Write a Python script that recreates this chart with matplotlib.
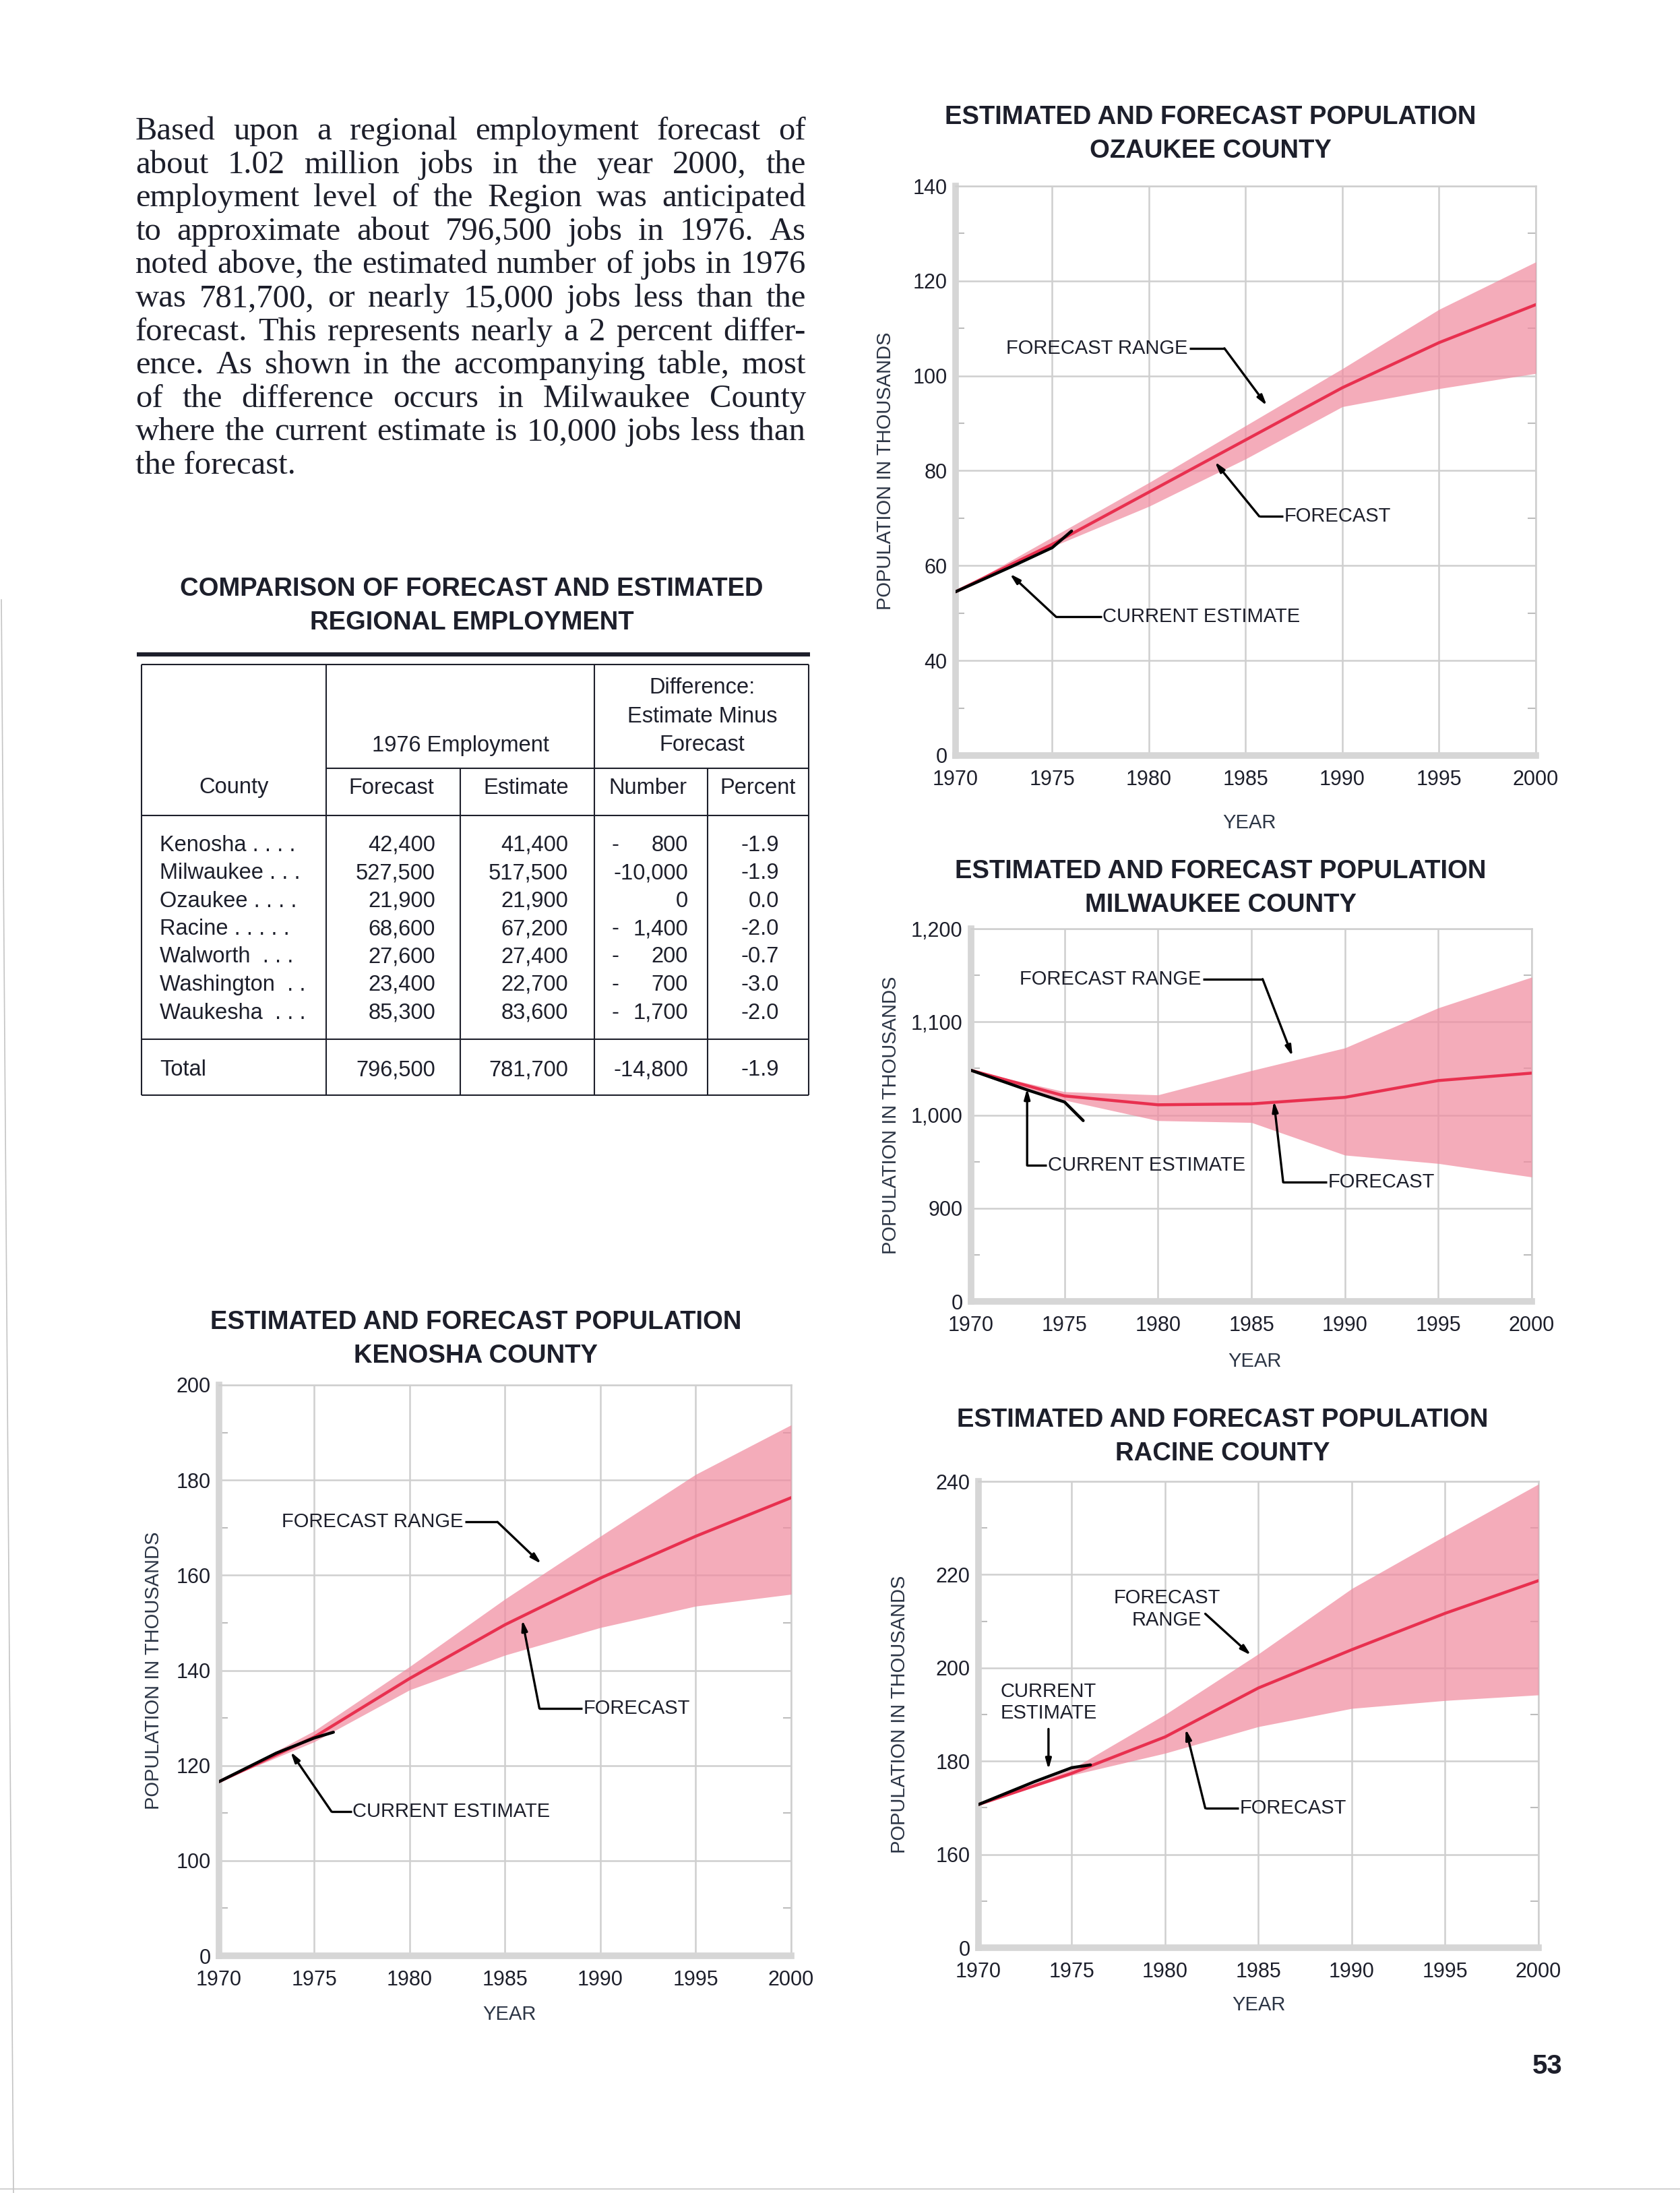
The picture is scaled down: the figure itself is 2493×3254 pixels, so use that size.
"""
page 53: forecast vs estimated employment table and four county population charts
"""

import matplotlib
matplotlib.use('Agg')
import matplotlib.pyplot as plt
from matplotlib.lines import Line2D
import numpy as np

plt.rcParams['font.family'] = ['Liberation Sans', 'DejaVu Sans']

W, H = 2493, 3254
ink = '#1d1f2b'
grid_gray = '#cfcfcf'
spine_gray = '#d6d6d6'
band_pink = '#f08ca0'
line_red = '#e8304f'

# ---------------- data ----------------
para_lines = [
    "Based upon a regional employment forecast of",
    "about 1.02 million jobs in the year 2000, the",
    "employment level of the Region was anticipated",
    "to approximate about 796,500 jobs in 1976. As",
    "noted above, the estimated number of jobs in 1976",
    "was 781,700, or nearly 15,000 jobs less than the",
    "forecast. This represents nearly a 2 percent differ-",
    "ence. As shown in the accompanying table, most",
    "of the difference occurs in Milwaukee County",
    "where the current estimate is 10,000 jobs less than",
    "the forecast.",
]

counties = ["Kenosha . . . .", "Milwaukee . . .", "Ozaukee . . . .", "Racine . . . . .",
            "Walworth  . . .", "Washington  . .", "Waukesha  . . ."]
emp_forecast = [42400, 527500, 21900, 68600, 27600, 23400, 85300]
emp_estimate = [41400, 517500, 21900, 67200, 27400, 22700, 83600]
emp_diff = [-800, -10000, 0, -1400, -200, -700, -1700]
emp_pct = [-1.9, -1.9, 0.0, -2.0, -0.7, -3.0, -2.0]
total_forecast, total_estimate, total_diff, total_pct = 796500, 781700, -14800, -1.9

years = [1970, 1975, 1980, 1985, 1990, 1995, 2000]
est_years = [1970, 1973, 1975, 1976]

ozaukee_fc = [54.5, 64.5, 75.5, 86.5, 97.5, 107.0, 115.0]
ozaukee_hi = [54.5, 66.0, 77.5, 89.5, 101.5, 114.0, 124.0]
ozaukee_lo = [54.5, 64.0, 72.5, 82.5, 93.5, 97.3, 100.5]
ozaukee_est = [54.5, 60.0, 63.8, 67.3]

milwaukee_fc = [1048, 1020.5, 1011, 1012, 1019, 1037, 1045]
milwaukee_hi = [1048, 1025, 1021.6, 1047.7, 1072, 1115, 1148]
milwaukee_lo = [1048, 1016, 994, 992, 957, 948, 933.5]
milwaukee_est = [1048, 1027, 1014, 994]

kenosha_fc = [116.6, 126.0, 138.3, 149.6, 159.4, 168.2, 176.3]
kenosha_hi = [116.6, 127.3, 140.8, 155.0, 168.2, 181.2, 191.6]
kenosha_lo = [116.6, 125.0, 135.9, 143.2, 149.0, 153.5, 156.0]
kenosha_est = [116.6, 122.6, 125.8, 127.0]

racine_fc = [170.7, 177.4, 185.2, 195.7, 203.9, 211.7, 218.7]
racine_hi = [170.7, 178.3, 190.0, 203.0, 217.0, 228.3, 239.4]
racine_lo = [170.7, 177.0, 181.7, 187.4, 191.3, 193.0, 194.2]
racine_est = [170.7, 175.6, 178.6, 179.2]

ozaukee_ticks = [20, 40, 60, 80, 100, 120, 140]
ozaukee_ticklabels = ['0', '40', '60', '80', '100', '120', '140']
milwaukee_ticks = [800, 900, 1000, 1100, 1200]
milwaukee_ticklabels = ['0', '900', '1,000', '1,100', '1,200']
kenosha_ticks = [80, 100, 120, 140, 160, 180, 200]
kenosha_ticklabels = ['0', '100', '120', '140', '160', '180', '200']
racine_ticks = [140, 160, 180, 200, 220, 240]
racine_ticklabels = ['0', '160', '180', '200', '220', '240']
x_ticks = [1970, 1975, 1980, 1985, 1990, 1995, 2000]


def fx(px):
    return px / W


def fy(py):
    return 1 - py / H


fig = plt.figure(figsize=(W / 100, H / 100), dpi=100)
fig.patch.set_facecolor('white')


def hline(x0, x1, y, lw=1.5, color=ink):
    fig.add_artist(Line2D([fx(x0), fx(x1)], [fy(y), fy(y)], color=color, lw=lw,
                          solid_capstyle='butt'))


def vline(x, y0, y1, lw=1.5, color=ink):
    fig.add_artist(Line2D([fx(x), fx(x)], [fy(y0), fy(y1)], color=color, lw=lw,
                          solid_capstyle='butt'))


# ---------------- justified paragraph ----------------
renderer = fig.canvas.get_renderer()
para_left, para_right = 201, 1196
para_kw = dict(family=['Liberation Serif', 'DejaVu Serif'], fontsize=35, color=ink, va='baseline')
for i, line in enumerate(para_lines):
    base = 207 + i * 49.6
    words = line.split()
    if i == len(para_lines) - 1:
        fig.text(fx(para_left), fy(base), line, ha='left', **para_kw)
        continue
    texts = [fig.text(0, fy(base), w, ha='left', **para_kw) for w in words]
    widths = [t.get_window_extent(renderer).width for t in texts]
    gap = (para_right - para_left - sum(widths)) / (len(words) - 1)
    x = para_left
    for t, w in zip(texts, widths):
        t.set_x(fx(x))
        x += w + gap

# ---------------- table ----------------
fig.text(fx(700), fy(874), "COMPARISON OF FORECAST AND ESTIMATED", ha='center', va='center',
         fontsize=27.5, fontweight='bold', color=ink)
fig.text(fx(700), fy(924), "REGIONAL EMPLOYMENT", ha='center', va='center',
         fontsize=27.5, fontweight='bold', color=ink)
hline(203, 1202, 971, lw=4.5)

t_left, t_right, t_top, t_bottom = 210, 1200, 986, 1625
hline(t_left, t_right, t_top)
hline(t_left, t_right, t_bottom)
vline(t_left, t_top, t_bottom)
vline(t_right, t_top, t_bottom)
vline(484, t_top, t_bottom)
vline(882, t_top, t_bottom)
vline(683, 1140, t_bottom)
vline(1050, 1140, t_bottom)
hline(484, t_right, 1140)
hline(t_left, t_right, 1210)
hline(t_left, t_right, 1542)

tkw = dict(fontsize=23.5, color=ink, va='center')
fig.text(fx(683), fy(1106), "1976 Employment", ha='center', **tkw)
for k, s in enumerate(["Difference:", "Estimate Minus", "Forecast"]):
    fig.text(fx(1042), fy(1021 + k * 42), s, ha='center', **tkw)
for s, cx in zip(["County", "Forecast", "Estimate", "Number", "Percent"],
                 [347, 581, 781, 961, 1125]):
    fig.text(fx(cx), fy(1169), s, ha='center', **tkw)

for r, name in enumerate(counties):
    ry = 1254 + r * 41.5
    fig.text(fx(237), fy(ry), name, ha='left', **tkw)
    fig.text(fx(646), fy(ry), f"{emp_forecast[r]:,}", ha='right', **tkw)
    fig.text(fx(843), fy(ry), f"{emp_estimate[r]:,}", ha='right', **tkw)
    d = emp_diff[r]
    if abs(d) >= 10000:
        fig.text(fx(1021), fy(ry), f"-{abs(d):,}", ha='right', **tkw)
    else:
        if d < 0:
            fig.text(fx(913), fy(ry), "-", ha='center', **tkw)
        fig.text(fx(1021), fy(ry), f"{abs(d):,}", ha='right', **tkw)
    fig.text(fx(1156), fy(ry), f"{emp_pct[r]:.1f}", ha='right', **tkw)

fig.text(fx(237), fy(1588), "Total", ha='left', **tkw)
fig.text(fx(646), fy(1588), f"{total_forecast:,}", ha='right', **tkw)
fig.text(fx(843), fy(1588), f"{total_estimate:,}", ha='right', **tkw)
fig.text(fx(1021), fy(1588), f"-{abs(total_diff):,}", ha='right', **tkw)
fig.text(fx(1156), fy(1588), f"{total_pct:.1f}", ha='right', **tkw)


# ---------------- charts ----------------
def leader(ax, label, text_xy, ha, points, va='center'):
    ax.text(text_xy[0], text_xy[1], label, ha=ha, va=va, fontsize=21, color=ink,
            linespacing=1.2, clip_on=False, zorder=6)
    if len(points) > 2:
        xs, ys = zip(*points[:-1])
        ax.plot(xs, ys, color='black', lw=2.4, solid_capstyle='butt', zorder=6, clip_on=False)
    ax.annotate('', xy=points[-1], xytext=points[-2],
                arrowprops=dict(arrowstyle='-|>,head_length=0.9,head_width=0.25',
                                color='black', lw=2.4, shrinkA=0, shrinkB=0), zorder=6)


def chart(box, county, title_x, title_y, ylab_x, year_xy, fc, hi, lo, est,
          ticks, ticklabels, notes):
    left, top, right, bottom = box
    ax = fig.add_axes([fx(left), fy(bottom), fx(right) - fx(left), (bottom - top) / H])
    ax.set_xlim(1970, 2000)
    ax.set_ylim(ticks[0], ticks[-1])

    ax.fill_between(years, lo, hi, color=band_pink, alpha=0.72, lw=0, zorder=3)
    ax.plot(years, fc, color=line_red, lw=3.2, zorder=4)
    ax.plot(est_years, est, color='black', lw=3.2, zorder=5, solid_capstyle='round')

    ax.set_xticks(x_ticks)
    ax.set_xticklabels([str(x) for x in x_ticks])
    ax.set_yticks(ticks)
    ax.set_yticklabels(ticklabels)
    step = ticks[1] - ticks[0]
    ax.set_yticks(np.arange(ticks[0] + step / 2, ticks[-1], step), minor=True)
    ax.grid(True, which='major', color=grid_gray, lw=1.8, zorder=1)
    ax.set_axisbelow(True)
    ax.tick_params(which='major', length=0, labelsize=22, labelcolor=ink)
    ax.tick_params(axis='x', pad=15)
    ax.tick_params(axis='y', pad=9)
    ax.tick_params(which='minor', axis='y', direction='in', length=9, width=1.5,
                   color='#bdbdbd', left=True, right=True)
    for side in ['left', 'bottom']:
        ax.spines[side].set_color(spine_gray)
        ax.spines[side].set_linewidth(7)
    for side in ['top', 'right']:
        ax.spines[side].set_color(grid_gray)
        ax.spines[side].set_linewidth(1.8)

    fig.text(fx(title_x), fy(title_y), "ESTIMATED AND FORECAST POPULATION", ha='center',
             va='center', fontsize=27.5, fontweight='bold', color=ink)
    fig.text(fx(title_x), fy(title_y + 50), county, ha='center', va='center',
             fontsize=27.5, fontweight='bold', color=ink)
    fig.text(fx(ylab_x), fy((top + bottom) / 2), "POPULATION IN THOUSANDS", rotation=90,
             ha='center', va='center', fontsize=21, color='#2c3545')
    fig.text(fx(year_xy[0]), fy(year_xy[1]), "YEAR", ha='center', va='center',
             fontsize=21, color='#2c3545')

    for n in notes:
        leader(ax, *n)
    return ax


chart((1418, 276, 2279, 1121), "OZAUKEE COUNTY", 1796, 174, 1314, (1854, 1221),
      ozaukee_fc, ozaukee_hi, ozaukee_lo, ozaukee_est, ozaukee_ticks, ozaukee_ticklabels,
      [("FORECAST RANGE", (1982.0, 105.8), 'right',
        [(1982.1, 105.8), (1983.9, 105.8), (1986.1, 93.7)]),
       ("FORECAST", (1987.0, 70.4), 'left',
        [(1986.95, 70.4), (1985.7, 70.4), (1983.4, 81.9)]),
       ("CURRENT ESTIMATE", (1977.6, 49.2), 'left',
        [(1977.55, 49.2), (1975.2, 49.2), (1972.8, 58.3)])])

chart((1441, 1378, 2273, 1931), "MILWAUKEE COUNTY", 1811, 1293, 1322, (1862, 2020),
      milwaukee_fc, milwaukee_hi, milwaukee_lo, milwaukee_est, milwaukee_ticks,
      milwaukee_ticklabels,
      [("FORECAST RANGE", (1982.3, 1145.9), 'right',
        [(1982.4, 1145.9), (1985.6, 1145.9), (1987.2, 1063)]),
       ("CURRENT ESTIMATE", (1974.1, 945.9), 'left',
        [(1974.05, 945.9), (1973.0, 945.9), (1973.0, 1028.6)]),
       ("FORECAST", (1989.1, 927.8), 'left',
        [(1989.05, 927.8), (1986.7, 927.8), (1986.2, 1015)])])

chart((325, 2055, 1174, 2902), "KENOSHA COUNTY", 706, 1962, 228, (756, 2989),
      kenosha_fc, kenosha_hi, kenosha_lo, kenosha_est, kenosha_ticks, kenosha_ticklabels,
      [("FORECAST RANGE", (1982.8, 171.2), 'right',
        [(1982.9, 171.2), (1984.6, 171.2), (1986.9, 162.4)]),
       ("FORECAST", (1989.1, 132.0), 'left',
        [(1989.05, 132.0), (1986.8, 132.0), (1985.9, 150.6)]),
       ("CURRENT ESTIMATE", (1977.0, 110.3), 'left',
        [(1976.95, 110.3), (1975.9, 110.3), (1973.75, 122.9)])])

chart((1452, 2198, 2283, 2890), "RACINE COUNTY", 1814, 2107, 1335, (1868, 2975),
      racine_fc, racine_hi, racine_lo, racine_est, racine_ticks, racine_ticklabels,
      [("FORECAST\nRANGE", (1980.1, 212.6), 'center',
        [(1982.15, 211.6), (1984.6, 202.7)]),
       ("CURRENT\nESTIMATE", (1973.75, 192.6), 'center',
        [(1973.75, 186.9), (1973.75, 178.2)]),
       ("FORECAST", (1984.0, 169.9), 'left',
        [(1983.95, 169.9), (1982.15, 169.9), (1981.1, 186.9)])])

# page number and scan edges
fig.text(fx(2296), fy(3066), "53", ha='center', va='center', fontsize=29,
         fontweight='bold', color=ink)
fig.add_artist(Line2D([fx(2), fx(20)], [fy(890), fy(3254)], color='#c4c4c4', lw=1.2))
hline(0, W, 3248, lw=1.2, color='#c8c8c8')

fig.savefig('out.png', dpi=100, facecolor='white')
